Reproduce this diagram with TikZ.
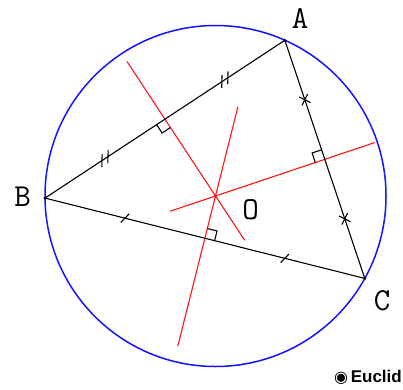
\documentclass[tikz,border=0pt]{standalone}
\usepackage{fontspec}
\usepackage{tikz}
\usepackage{xcolor}
\usetikzlibrary{calc,decorations.markings}
\newfontfamily\markfont{DejaVu Sans}
\newfontfamily\signfont{Liberation Sans}
\definecolor{circblue}{RGB}{20,20,255}
\definecolor{bisred}{RGB}{255,20,20}
\tikzset{
  side/.style={line width=1.1pt},
  bisector/.style={bisred,line width=1.1pt},
  circum/.style={circblue,line width=1.5pt},
  vlabel/.style={font=\ttfamily\fontsize{32}{32}\selectfont,inner sep=0pt},
  onetick/.style={postaction={decorate,decoration={markings,
    mark=at position .25 with {\draw[side] (-3,-5.2)--(3,5.2);},
    mark=at position .75 with {\draw[side] (-3,-5.2)--(3,5.2);}}}},
  twotick/.style={postaction={decorate,decoration={markings,
    mark=at position .25 with {\draw[side] (-7.3,-5.3)--(0.1,5.3) (-0.1,-5.3)--(7.3,5.3);},
    mark=at position .75 with {\draw[side] (-7.3,-5.3)--(0.1,5.3) (-0.1,-5.3)--(7.3,5.3);}}}},
  crosstick/.style={postaction={decorate,decoration={markings,
    mark=at position .25 with {\draw[side] (-4.5,-4.5)--(4.5,4.5) (-4.5,4.5)--(4.5,-4.5);},
    mark=at position .75 with {\draw[side] (-4.5,-4.5)--(4.5,4.5) (-4.5,4.5)--(4.5,-4.5);}}}}
}
% right angle mark at foot #1, along #2 and toward #3
\newcommand{\perpmark}[3]{%
  \draw[side] ($(#1)!10pt!(#2)$) -- ($(#1)!10pt!(#2)+(#1)!10pt!(#3)-(#1)$) -- ($(#1)!10pt!(#3)$);}
\begin{document}
\begin{tikzpicture}[x=1pt,y=1pt]
\useasboundingbox (0,0) rectangle (403,389);
\coordinate (O) at (215.5,193);
\coordinate (A) at ($(O)+(66:170.5)$);
\coordinate (B) at ($(O)+(180.7:170.5)$);
\coordinate (C) at ($(O)+(-28.9:170.5)$);
\coordinate (Mab) at ($(A)!.5!(B)$);
\coordinate (Mac) at ($(A)!.5!(C)$);
\coordinate (Mbc) at ($(B)!.5!(C)$);
\draw[circum] (O) circle (170.5);
% perpendicular bisectors
\draw[bisector] ($(O)!-53pt!(Mab)$) -- ($(O)!161pt!(Mab)$);
\draw[bisector] ($(O)!-48pt!(Mac)$) -- ($(O)!168pt!(Mac)$);
\draw[bisector] ($(O)!-92pt!(Mbc)$) -- ($(O)!155pt!(Mbc)$);
% sides
\draw[side,twotick] (B) -- (A);
\draw[side,crosstick] (A) -- (C);
\draw[side,onetick] (B) -- (C);
\perpmark{Mab}{B}{O}
\perpmark{Mac}{A}{O}
\perpmark{Mbc}{C}{O}
\fill (A) circle (1.6); \fill (B) circle (1.6); \fill (C) circle (1.6);
\fill[bisred] (O) circle (1.6);
\node[vlabel] (labA) at (300,370) {A};
\node[vlabel] (labB) at (22.5,192) {B};
\node[vlabel] (labC) at (382,88) {C};
\node[vlabel] (labO) at (250.5,179) {O};
\node[anchor=east,inner sep=0pt,font=\signfont\bfseries\fontsize{17}{17}\selectfont] (sign) at (402,12) {{\markfont\fontsize{16}{16}\selectfont ◉}\,Euclid};
\end{tikzpicture}
\end{document}
